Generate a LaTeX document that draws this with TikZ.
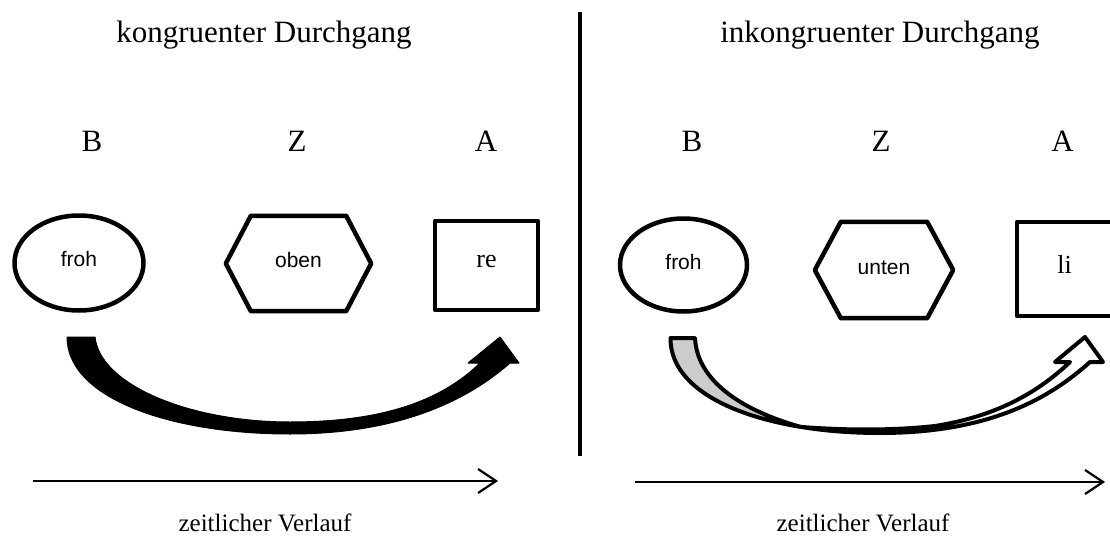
\documentclass[tikz,border=0pt]{standalone}
\usepackage{fontspec}
\setmainfont{Liberation Serif}
\newfontfamily\labelsans{Liberation Sans}
\usetikzlibrary{arrows.meta,shapes.geometric}
\begin{document}
\begin{tikzpicture}[x=1pt,y=-1pt,
  heading/.style={font=\fontsize{31}{36}\selectfont, anchor=base, inner sep=0pt},
  letter/.style={font=\fontsize{31}{36}\selectfont, anchor=base, inner sep=0pt},
  caption/.style={font=\fontsize{25}{30}\selectfont, anchor=base, inner sep=0pt},
  outline/.style={draw=black, line width=4.5pt, line join=round},
  oval/.style={outline, ellipse, inner sep=0pt},
  box/.style={outline, rectangle, inner sep=0pt},
  hexframe/.style={rectangle, inner sep=0pt},
  sanslabel/.style={font=\labelsans\fontsize{21}{25}\selectfont, inner sep=0pt},
  seriflabel/.style={font=\fontsize{26}{30}\selectfont, inner sep=0pt},
  timeline/.style={line width=2.2pt, -{Straight Barb[length=18pt,width=24pt]}},
  solidarrow/.style={fill=black, draw=black, line width=1pt, line join=round},
  hollowarrow/.style={draw=black, line width=4pt, line join=round},
]
\useasboundingbox (0,0) rectangle (1110,540);
\clip (0,0) rectangle (1110,540);
\fill[white] (0,0) rectangle (1110,540);

% divider between the two panels
\coordinate (divtop) at (580,12);
\coordinate (divbot) at (580,456);
\draw[line width=4.5pt] (divtop) -- (divbot);

% ---------- left panel: kongruent ----------
\node[heading] (T1) at (264,43) {kongruenter Durchgang};
\node[letter] (B1) at (92,152) {B};
\node[letter] (Z1) at (297,152) {Z};
\node[letter] (A1) at (486,152) {A};

\node[oval, minimum width=129pt, minimum height=95pt] (e1) at (79,263) {};
\node[hexframe, minimum width=145pt, minimum height=95pt] (h1) at (298.5,263.5) {};
\draw[outline] (h1.west) -- ([xshift=25pt]h1.north west) -- ([xshift=-25pt]h1.north east)
  -- (h1.east) -- ([xshift=-25pt]h1.south east) -- ([xshift=25pt]h1.south west) -- cycle;
\node[box, minimum width=103pt, minimum height=89pt] (s1) at (486.5,265.5) {};

\node[sanslabel] (f1) at ([yshift=4pt]e1.center) {froh};
\node[sanslabel] (o1) at ([yshift=4pt]h1.center) {oben};
\node[seriflabel] (r1) at ([yshift=4pt]s1.center) {re};

% solid curved arrow
\draw[solidarrow] (67,337) .. controls (67,398) and (170,434) .. (290,434)
  .. controls (400,434) and (468,400) .. (510,363)
  -- (519,363) -- (500,337) -- (468,363) -- (480,363)
  .. controls (440,402) and (380,422) .. (290,422)
  .. controls (190,422) and (100,385) .. (95,337) -- cycle;

\coordinate (tl0) at (33,481);
\coordinate (tl1) at (498,481);
\draw[timeline] (tl0) -- (tl1);
\node[caption] (c1) at (265,531) {zeitlicher Verlauf};

% ---------- right panel: inkongruent ----------
\node[heading] (T2) at (880,43) {inkongruenter Durchgang};
\node[letter] (B2) at (692,152) {B};
\node[letter] (Z2) at (881,152) {Z};
\node[letter] (A2) at (1062.5,152) {A};

\node[oval, minimum width=127pt, minimum height=93pt] (e2) at (683.5,265) {};
\node[hexframe, minimum width=138pt, minimum height=96pt] (h2) at (884,270) {};
\draw[outline] (h2.west) -- ([xshift=26pt]h2.north west) -- ([xshift=-26pt]h2.north east)
  -- (h2.east) -- ([xshift=-26pt]h2.south east) -- ([xshift=26pt]h2.south west) -- cycle;
\node[box, minimum width=103pt, minimum height=94pt] (s2) at (1068.5,269) {};

\node[sanslabel] (f2) at ([yshift=3pt]e2.center) {froh};
\node[sanslabel] (u2) at ([yshift=2pt]h2.center) {unten};
\node[seriflabel] (l2) at ([xshift=-4pt,yshift=5pt]s2.center) {li};

% hollow curved arrow: shaded back part
\draw[hollowarrow, fill=black!20] (670.5,338) -- (695,338)
  .. controls (697,380) and (740,410) .. (800.8,426.9)
  .. controls (726.3,414.7) and (670.1,384.5) .. (670.5,338) -- cycle;
% hollow curved arrow: front band with head
\draw[hollowarrow, fill=white] (800.8,426.9)
  .. controls (825.6,431) and (852.5,433) .. (880,433)
  .. controls (990,433) and (1050,398) .. (1090,362)
  -- (1103,362) -- (1085,337) -- (1055,362) -- (1070,362)
  .. controls (1030,400) and (985,418) .. (935,426)
  .. controls (890,431) and (840,430) .. (800.8,426.9) -- cycle;

\coordinate (tr0) at (635,482);
\coordinate (tr1) at (1105,482);
\draw[timeline] (tr0) -- (tr1);
\node[caption] (c2) at (863,531) {zeitlicher Verlauf};
\end{tikzpicture}
\end{document}
